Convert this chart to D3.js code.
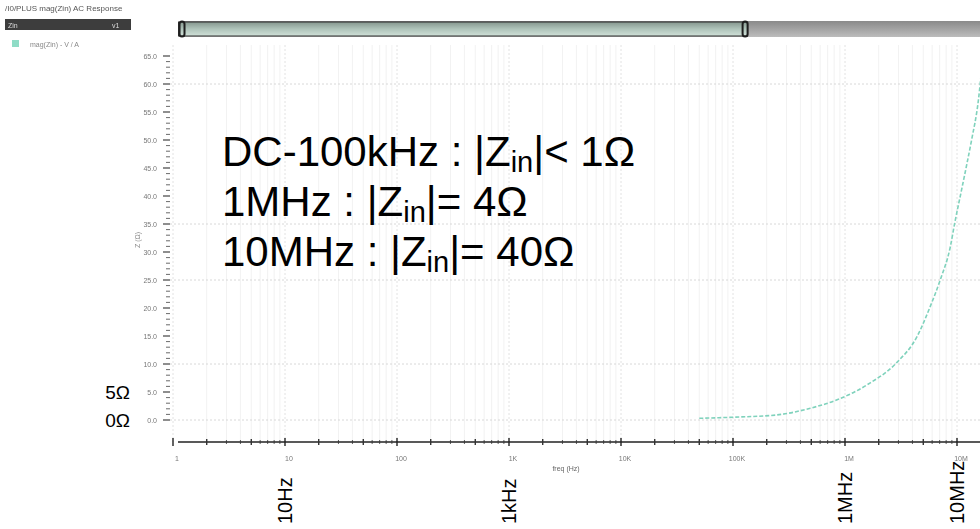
<!DOCTYPE html>
<html>
<head>
<meta charset="utf-8">
<script src="https://cdn.jsdelivr.net/npm/d3@7"></script>
<style>
  html, body { margin: 0; padding: 0; background: #fff; }
  svg { display: block; font-family: "Liberation Sans", Arial, sans-serif; }
</style>
</head>
<body>
<svg id="chart" width="980" height="529"></svg>
<script>
// Input impedance magnitude vs frequency
const freqHz = [50e3, 100e3, 245e3, 490e3, 850e3, 1.58e6, 2.88e6, 4.37e6, 5.75e6, 7.08e6, 8.71e6, 9.55e6, 10.96e6, 12.3e6, 13.5e6, 15.5e6, 16.3e6];
const zinOhm = [0.3, 0.5, 0.9, 2.1, 3.6, 6.3, 10.2, 14.8, 20.2, 25.0, 30.9, 35.2, 41.0, 45.9, 50.0, 57.0, 61.0];

// Axis ticks and labels
const decadeTicks = [1, 10, 100, 1e3, 1e4, 1e5, 1e6, 1e7];
const decadeTickLabels = ["1", "10", "100", "1K", "10K", "100K", "1M", "10M"];
const freqLabelValues = [10, 1e3, 1e6, 1e7];
const freqLabels = ["10Hz", "1kHz", "1MHz", "10MHz"];
const yTickValues = [0, 5, 10, 15, 20, 25, 30, 35, 40, 45, 50, 55, 60, 65];
const yGridValues = [0, 10, 25, 35, 60];
const ohmLabelValues = [5, 0];
const ohmLabels = ["5Ω", "0Ω"];
const noteLines = [
  ["DC-100kHz : |Z", "in", "|< 1Ω"],
  ["1MHz : |Z", "in", "|= 4Ω"],
  ["10MHz : |Z", "in", "|= 40Ω"]
];

const svg = d3.select("#chart");
const defs = svg.append("defs");
defs.append("filter").attr("id", "soft")
  .append("feGaussianBlur").attr("stdDeviation", 0.55);

const gTrack = defs.append("linearGradient").attr("id", "track").attr("x1", 0).attr("x2", 0).attr("y1", 0).attr("y2", 1);
gTrack.append("stop").attr("offset", "0%").attr("stop-color", "#8a8a8a");
gTrack.append("stop").attr("offset", "100%").attr("stop-color", "#bcbcbc");
const gThumb = defs.append("linearGradient").attr("id", "thumb").attr("x1", 0).attr("x2", 0).attr("y1", 0).attr("y2", 1);
gThumb.append("stop").attr("offset", "0%").attr("stop-color", "#85968e");
gThumb.append("stop").attr("offset", "50%").attr("stop-color", "#afc4ba");
gThumb.append("stop").attr("offset", "100%").attr("stop-color", "#d0e0d8");

const plotLeft = 170, plotRight = 980, axisY = 442, plotTop = 45;

const x = d3.scaleLog().domain([1, 1e7]).range([173, 957]);
const y = d3.scaleLinear().domain([0, 60]).range([420, 84]);

// scroll bar along the top
svg.append("rect").attr("x", 182).attr("y", 21).attr("width", 798).attr("height", 16).attr("fill", "url(#track)");
const thumbL = x(1.12), thumbR = x(1.35e5);
svg.append("rect").attr("x", thumbL).attr("y", 22).attr("width", thumbR - thumbL).attr("height", 14)
  .attr("fill", "url(#thumb)").attr("stroke", "#2e2e2e").attr("stroke-width", 1);
[thumbL, thumbR - 6].forEach(hx => {
  svg.append("rect").attr("x", hx + 1).attr("y", 21.5).attr("width", 5).attr("height", 15).attr("rx", 2.5)
    .attr("fill", "none").attr("stroke", "#1e1e1e").attr("stroke-width", 2);
});

// legend block (top left)
const leg = svg.append("g").attr("filter", "url(#soft)");
leg.append("text").attr("x", 5).attr("y", 11).attr("font-size", 8).attr("fill", "#555")
  .text("/I0/PLUS  mag(Zin)  AC Response");
leg.append("rect").attr("x", 5).attr("y", 19).attr("width", 126).attr("height", 11).attr("fill", "#3c3c3c");
leg.append("text").attr("x", 8).attr("y", 27.5).attr("font-size", 7).attr("fill", "#ddd").text("Zin");
leg.append("text").attr("x", 112).attr("y", 27.5).attr("font-size", 7).attr("fill", "#ddd").text("v1");
leg.append("rect").attr("x", 12).attr("y", 40).attr("width", 7).attr("height", 7).attr("fill", "#8fdcc6");
leg.append("text").attr("x", 30).attr("y", 46.5).attr("font-size", 7).attr("fill", "#888").text("mag(Zin) - V / A");

// grid
const grid = svg.append("g");
const minorF = [];
for (let d = 1; d < 1e7; d *= 10) for (let k = 2; k <= 9; k++) minorF.push(d * k);
minorF.filter(f => x(f) < plotRight).forEach(f => {
  grid.append("line").attr("x1", x(f)).attr("x2", x(f)).attr("y1", plotTop).attr("y2", axisY)
    .attr("stroke", "#f2f2f2").attr("stroke-width", 1);
});
decadeTicks.forEach(f => {
  grid.append("line").attr("x1", x(f)).attr("x2", x(f)).attr("y1", plotTop).attr("y2", axisY)
    .attr("stroke", "#e2e2e2").attr("stroke-width", 1).attr("stroke-dasharray", "2,2");
});
yGridValues.forEach(v => {
  grid.append("line").attr("x1", plotLeft).attr("x2", plotRight).attr("y1", y(v)).attr("y2", y(v))
    .attr("stroke", "#d8d8d8").attr("stroke-width", 1).attr("stroke-dasharray", "2,2");
});

// y ticks
const yt = svg.append("g");
d3.range(0, 66, 1).forEach(v => {
  const major = v % 5 === 0;
  yt.append("line").attr("x1", major ? 163 : 166).attr("x2", 170).attr("y1", y(v)).attr("y2", y(v))
    .attr("stroke", "#444").attr("stroke-width", major ? 1.2 : 0.8);
});
const ytl = svg.append("g").attr("filter", "url(#soft)");
yTickValues.forEach(v => {
  ytl.append("text").attr("x", 157).attr("y", y(v) + 2.5).attr("text-anchor", "end")
    .attr("font-size", 7).attr("fill", "#777").text(v.toFixed(1));
});
ytl.append("text").attr("transform", "translate(140,240) rotate(-90)").attr("text-anchor", "middle")
  .attr("font-size", 7).attr("fill", "#888").text("Z (Ω)");

// x axis
svg.append("line").attr("x1", 178).attr("x2", plotRight).attr("y1", axisY).attr("y2", axisY)
  .attr("stroke", "#222").attr("stroke-width", 1.6);
const xt = svg.append("g");
minorF.filter(f => x(f) < plotRight).forEach(f => {
  const mid = [2, 5].some(k => Math.abs(f / Math.pow(10, Math.floor(Math.log10(f) + 1e-9)) - k) < 1e-6);
  xt.append("line").attr("x1", x(f)).attr("x2", x(f)).attr("y1", axisY - (mid ? 3 : 2)).attr("y2", axisY + (mid ? 3 : 2))
    .attr("stroke", "#333").attr("stroke-width", mid ? 1.4 : 0.8);
});
decadeTicks.forEach(f => {
  xt.append("line").attr("x1", x(f)).attr("x2", x(f)).attr("y1", axisY - 4).attr("y2", axisY + 4)
    .attr("stroke", "#222").attr("stroke-width", 1.4);
});
const xtl = svg.append("g").attr("filter", "url(#soft)");
decadeTicks.forEach((f, i) => {
  xtl.append("text").attr("x", x(f) + 4).attr("y", 461).attr("text-anchor", "middle")
    .attr("font-size", 7).attr("fill", "#777").text(decadeTickLabels[i]);
});
xtl.append("text").attr("x", 566).attr("y", 471).attr("text-anchor", "middle")
  .attr("font-size", 7).attr("fill", "#666").text("freq (Hz)");

// impedance curve
const line = d3.line().x((d, i) => x(freqHz[i])).y(d => y(d)).curve(d3.curveMonotoneX);
svg.append("path").datum(zinOhm).attr("d", line)
  .attr("fill", "none").attr("stroke", "#7fd2bc").attr("stroke-width", 1.6)
  .attr("stroke-dasharray", "4,2");

// rotated frequency labels
freqLabelValues.forEach((f, i) => {
  svg.append("text").attr("transform", `translate(${x(f)},524) rotate(-90)`)
    .attr("dy", "0.36em").attr("font-size", 20).attr("fill", "#000").text(freqLabels[i]);
});

// ohm labels at the left
ohmLabelValues.forEach((v, i) => {
  svg.append("text").attr("x", 130).attr("y", y(v) + 7).attr("text-anchor", "end")
    .attr("font-size", 19).attr("fill", "#000").text(ohmLabels[i]);
});

// annotation
noteLines.forEach((parts, i) => {
  const t = svg.append("text").attr("x", 222).attr("y", 166 + i * 50).attr("font-size", 42).attr("fill", "#000");
  t.append("tspan").text(parts[0]);
  t.append("tspan").attr("font-size", 29).attr("dy", 6).text(parts[1]);
  t.append("tspan").attr("dy", -6).text(parts[2]);
});
</script>
</body>
</html>
